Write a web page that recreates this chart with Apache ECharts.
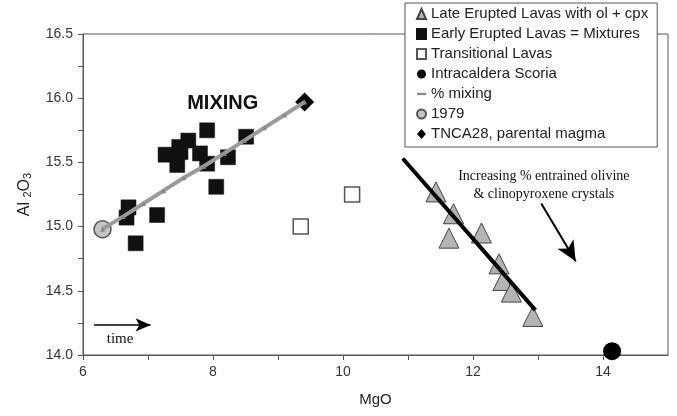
<!DOCTYPE html>
<html>
<head>
<meta charset="utf-8">
<script src="https://cdn.jsdelivr.net/npm/echarts@6/dist/echarts.min.js"></script>
<style>
  html, body { margin: 0; padding: 0; background: #fff; }
  #main { width: 677px; height: 416px; }
</style>
</head>
<body>
<div id="main"></div>
<script>
// values (MgO, Al2O3)
var lateLavas = [[11.43, 15.27], [11.70, 15.10], [11.63, 14.91], [12.13, 14.95],
                 [12.40, 14.71], [12.46, 14.58], [12.59, 14.49], [12.92, 14.30]];
var earlyLavas = [[7.91, 15.75], [8.51, 15.70], [7.62, 15.67], [7.48, 15.62], [7.50, 15.58],
                  [7.27, 15.56], [7.45, 15.48], [7.80, 15.57], [8.23, 15.54], [7.91, 15.49],
                  [8.05, 15.31], [6.70, 15.15], [6.67, 15.07], [7.14, 15.09], [6.81, 14.87]];
var transitional = [[10.14, 15.25], [9.35, 15.00]];
var scoria = [[14.14, 14.03]];
var mixing = [[6.30, 14.98], [6.62, 15.08], [6.93, 15.18], [7.24, 15.28], [7.55, 15.38],
              [7.86, 15.47], [8.17, 15.57], [8.48, 15.67], [8.79, 15.77], [9.10, 15.87], [9.41, 15.97]];
var y1979 = [[6.30, 14.98]];
var tnca28 = [[9.41, 15.97]];
var olTrend = [[10.92, 15.53], [12.96, 14.35]];

var fontSans = 'Liberation Sans, Arial, sans-serif';
var fontSerif = 'Liberation Serif, Times New Roman, serif';

var myChart = echarts.init(document.getElementById('main'));

var option = {
    backgroundColor: '#fff',
    animation: false,
    grid: {
        left: 83, right: 9, top: 34, bottom: 61,
        show: true, borderColor: '#555', borderWidth: 1
    },
    legend: {
        orient: 'vertical',
        left: 405, top: 3,
        padding: [3, 9, 5, 11],
        itemWidth: 9, itemHeight: 10,
        itemGap: 4,
        backgroundColor: '#fff',
        borderColor: '#555', borderWidth: 1,
        textStyle: { fontFamily: fontSans, fontSize: 15, color: '#222', lineHeight: 16 },
        data: [
            { name: 'Late Erupted Lavas with ol + cpx', icon: 'triangle' },
            { name: 'Early Erupted Lavas = Mixtures', icon: 'rect' },
            { name: 'Transitional Lavas', icon: 'rect' },
            { name: 'Intracaldera Scoria', icon: 'circle' },
            { name: '% mixing', icon: 'path://M0,0h12v3h-12z' },
            { name: '1979', icon: 'circle' },
            { name: 'TNCA28, parental magma', icon: 'diamond' }
        ]
    },
    xAxis: {
        type: 'value', min: 6, max: 15, interval: 1,
        name: 'MgO', nameLocation: 'middle', nameGap: 37,
        nameTextStyle: { fontFamily: fontSans, fontSize: 15, color: '#222' },
        axisLine: { lineStyle: { color: '#555' } },
        axisTick: { length: 5, lineStyle: { color: '#555' } },
        axisLabel: {
            fontFamily: fontSans, fontSize: 14, color: '#333', margin: 10,
            showMaxLabel: false,
            formatter: function (v) { return v % 2 === 0 ? String(v) : ''; }
        },
        splitLine: { show: false }
    },
    yAxis: {
        type: 'value', min: 14, max: 16.5, interval: 0.25,
        name: '{a|Al }{s|2}{a|O}{s|3}', nameLocation: 'middle', nameGap: 50, nameRotate: 90,
        nameTextStyle: {
            rich: {
                a: { fontFamily: fontSans, fontSize: 16, color: '#222' },
                s: { fontFamily: fontSans, fontSize: 11, color: '#222', verticalAlign: 'bottom', padding: [6, 0, 0, 0] }
            }
        },
        axisLine: { lineStyle: { color: '#555' } },
        axisTick: { length: 5, lineStyle: { color: '#555' } },
        axisLabel: {
            fontFamily: fontSans, fontSize: 14, color: '#333', margin: 10,
            formatter: function (v) { return (Math.round(v * 100) % 50 === 0) ? v.toFixed(1) : ''; }
        },
        splitLine: { show: false }
    },
    series: [
        {
            name: 'Late Erupted Lavas with ol + cpx', type: 'scatter', symbol: 'triangle', symbolSize: 20,
            itemStyle: { color: '#b4b4b4', borderColor: '#444', borderWidth: 1, opacity: 1 },
            data: lateLavas
        },
        {
            name: 'ol-cpx trend', type: 'line', symbol: 'none', silent: true,
            lineStyle: { color: '#000', width: 4 },
            data: olTrend
        },
        {
            name: 'Early Erupted Lavas = Mixtures', type: 'scatter', symbol: 'rect', symbolSize: 15,
            itemStyle: { color: '#111', borderColor: '#111', borderWidth: 0.5, opacity: 1 },
            data: earlyLavas
        },
        {
            name: 'Transitional Lavas', type: 'scatter', symbol: 'rect', symbolSize: 15,
            itemStyle: { color: '#fff', borderColor: '#555', borderWidth: 1.5, opacity: 1 },
            data: transitional
        },
        {
            name: 'Intracaldera Scoria', type: 'scatter', symbol: 'circle', symbolSize: 18,
            itemStyle: { color: '#000', opacity: 1 },
            data: scoria
        },
        {
            name: '% mixing', type: 'line', symbol: 'triangle', symbolSize: 5, showAllSymbol: true,
            lineStyle: { color: '#9a9a9a', width: 4 },
            itemStyle: { color: '#8a8a8a', borderWidth: 0 },
            data: mixing
        },
        {
            name: '1979', type: 'scatter', symbol: 'circle', symbolSize: 17,
            itemStyle: { color: '#c4c4c4', borderColor: '#555', borderWidth: 1.5, opacity: 1 },
            data: y1979
        },
        {
            name: 'TNCA28, parental magma', type: 'scatter', symbol: 'diamond', symbolSize: 19,
            itemStyle: { color: '#000', opacity: 1 },
            data: tnca28,
            markLine: {
                silent: true, symbol: ['none', 'arrow'],
                label: { show: false },
                data: [
                    [{ coord: [13.05, 15.18], lineStyle: { color: '#000', width: 2, type: 'solid' } },
                     { coord: [13.58, 14.73], symbolSize: [14, 20] }],
                    [{ coord: [6.17, 14.234], lineStyle: { color: '#000', width: 1.5, type: 'solid' } },
                     { coord: [7.04, 14.234], symbolSize: [10, 15] }]
                ]
            }
        }
    ]
};
option && myChart.setOption(option);

// annotations placed in data units
var notes = [
    { at: [8.15, 15.96], text: 'MIXING', font: 'bold 20px ' + fontSans },
    { at: [13.09, 15.32], text: 'Increasing % entrained olivine\n& clinopyroxene crystals', font: '14px ' + fontSerif, lineHeight: 18 },
    { at: [6.57, 14.125], text: 'time', font: '15px ' + fontSerif }
];
myChart.setOption({
    graphic: notes.map(function (n) {
        var p = myChart.convertToPixel({ gridIndex: 0 }, n.at);
        return {
            type: 'text', x: p[0], y: p[1], z: 50,
            style: { text: n.text, font: n.font, fill: '#111', align: 'center', verticalAlign: 'middle', lineHeight: n.lineHeight }
        };
    })
});
</script>
</body>
</html>
